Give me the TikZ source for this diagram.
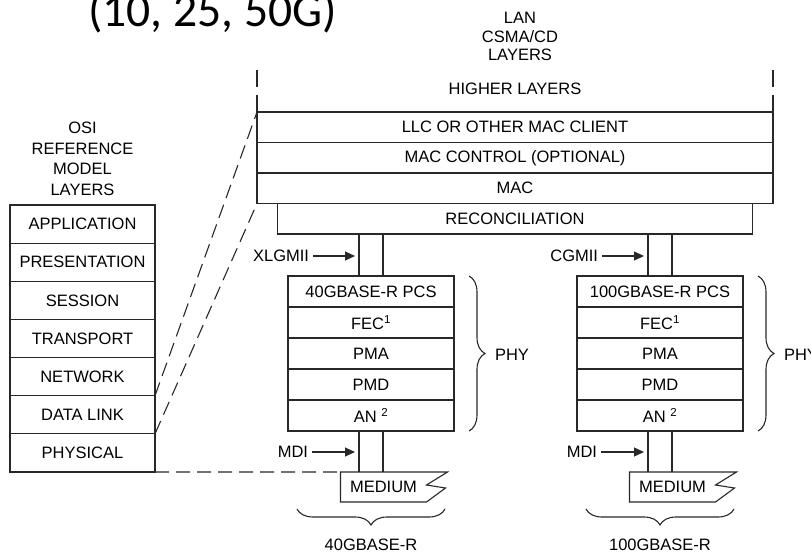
\documentclass[tikz,border=0pt]{standalone}
\usepackage{fontspec}
\setmainfont{Liberation Sans}
\newfontfamily\titlefont{Carlito}
\usetikzlibrary{positioning,chains,calc,arrows.meta,decorations.pathreplacing}
\definecolor{myline}{RGB}{40,40,40}

\begin{document}
\begin{tikzpicture}[x=1pt,y=-1pt,
  every node/.style={font=\fontsize{16.5}{20.6}\selectfont,inner sep=0pt,outer sep=0pt},
  layer/.style={draw=myline,line width=1.1pt,rectangle},
  osinode/.style={layer,minimum width=145pt,minimum height=38.14pt},
  lannode/.style={layer,minimum width=516pt,minimum height=30.5pt},
  phynode/.style={layer,minimum width=166pt,minimum height=31pt},
  link/.style={draw=myline,line width=1.1pt},
  dashlink/.style={link,dash pattern=on 14pt off 7pt},
  arr/.style={link,-{Triangle[length=10pt,width=9pt]},shorten >=4pt,shorten <=4pt},
  brace/.style={link,decorate,decoration={brace,amplitude=16pt}}
]
\useasboundingbox (0,0) rectangle (811,554);

% the title
\node[font=\titlefont\fontsize{47.6}{50}\selectfont,anchor=base] (title) at (212.5,26) {(10, 25, 50G)};

% the OSI layers
\node[align=center] (osilabel) at (82.5,159) {OSI\\REFERENCE\\MODEL\\LAYERS};
\begin{scope}[xshift=82.5pt,yshift=-224.07pt,start chain=going below,node distance=0pt]
\foreach \name [count=\i] in {APPLICATION,PRESENTATION,SESSION,TRANSPORT,NETWORK,DATA LINK,PHYSICAL}
  \node[osinode,on chain] (osi\i) {\name};
\end{scope}

% the LAN layers
\node[align=center,font=\fontsize{16.5}{18.5}\selectfont] (lanlabel) at (520,36.5) {LAN\\CSMA/CD\\LAYERS};
\node (higher) at (515,89) {HIGHER LAYERS};
\begin{scope}[xshift=515pt,yshift=-127.25pt,start chain=going below,node distance=0pt]
\node[lannode,on chain] (llc) {LLC OR OTHER MAC CLIENT};
\node[lannode,on chain] (macctl) {MAC CONTROL (OPTIONAL)};
\node[lannode,on chain] (mac) {MAC};
\node[lannode,on chain,minimum width=475pt] (rec) {RECONCILIATION};
\end{scope}
\draw[dashlink,dash pattern=on 17pt off 8pt] (llc.north west) -- ++(0,-43);
\draw[dashlink,dash pattern=on 17pt off 8pt] (llc.north east) -- ++(0,-43);

% the PHY stacks
\foreach \s/\x in {40/371,100/660} {
\begin{scope}[xshift=\x pt,yshift=-291.5pt,start chain=going below,node distance=0pt]
  \node[phynode,on chain] (pcs\s) {\s GBASE-R PCS};
  \node[phynode,on chain] (fec\s) {FEC\textsuperscript{1}};
  \node[phynode,on chain] (pma\s) {PMA};
  \node[phynode,on chain] (pmd\s) {PMD};
  \node[phynode,on chain] (an\s) {AN \textsuperscript{2}};
\end{scope}
% the medium
\node[minimum width=86pt,minimum height=30pt,anchor=north west] (med\s)
  at ([xshift=-30.5pt,yshift=-41pt]an\s.south) {MEDIUM};
\draw[link] (med\s.north west) -- ++(107,0) -- ++(-21,13) -- ++(19,3) -- ++(-19,14)
  -- (med\s.south west) -- cycle;
% the interfaces
\coordinate (cl\s) at ([xshift=-12pt]pcs\s.north);
\coordinate (cr\s) at ([xshift=12pt]pcs\s.north);
\coordinate (dl\s) at ([xshift=-12pt]an\s.south);
\coordinate (dr\s) at ([xshift=12pt]an\s.south);
\draw[link] (cl\s) -- (cl\s |- rec.south);
\draw[link] (cr\s) -- (cr\s |- rec.south);
\draw[link] (dl\s) -- (dl\s |- med\s.north);
\draw[link] (dr\s) -- (dr\s |- med\s.north);
% the braces
\draw[brace] ([xshift=15pt]pcs\s.north east) -- ([xshift=15pt]an\s.south east);
\node[anchor=west] (phy\s) at ($(pma\s.east)+(41,1)$) {PHY};
\draw[brace] ($(an\s.south)+(74,78)$) -- ($(an\s.south)+(-74,78)$);
\node (base\s) at ($(an\s.south)+(0,114)$) {\s GBASE-R};
}

% the interface labels
\node[anchor=east] (xlg) at (309,256) {XLGMII};
\node[anchor=east] (cg) at (598,256) {CGMII};
\node[anchor=east] (mdi40) at (308,452) {MDI};
\node[anchor=east] (mdi100) at (597,452) {MDI};
\draw[arr] (xlg.east) -- (xlg.east -| cl40);
\draw[arr] (cg.east) -- (cg.east -| cl100);
\draw[arr] (mdi40.east) -- (mdi40.east -| dl40);
\draw[arr] (mdi100.east) -- (mdi100.east -| dl100);

% the mapping to OSI
\draw[dashlink] (osi5.south east) -- (llc.north west);
\draw[dashlink] (osi6.south east) -- (mac.south west);
\draw[dashlink] (osi7.south east) -- (med40.north west);
\end{tikzpicture}
\end{document}
